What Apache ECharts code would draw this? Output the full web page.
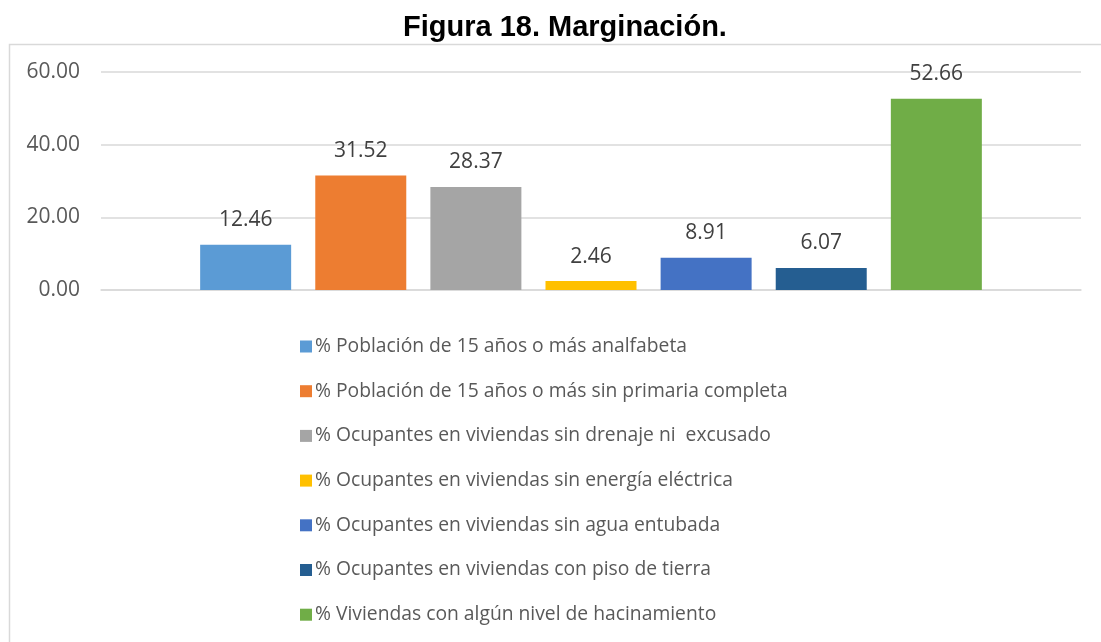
<!DOCTYPE html>
<html>
<head>
<meta charset="utf-8">
<script src="https://cdn.jsdelivr.net/npm/echarts@6/dist/echarts.min.js"></script>
<style>
  html, body { margin: 0; padding: 0; background: #fff; }
  #chart { width: 1101px; height: 642px; }
</style>
</head>
<body>
<div id="chart"></div>
<script>
// datos de la gráfica
const seriesNames = [
  '% Población de 15 años o más analfabeta',
  '% Población de 15 años o más sin primaria completa',
  '% Ocupantes en viviendas sin drenaje ni  excusado',
  '% Ocupantes en viviendas sin energía eléctrica',
  '% Ocupantes en viviendas sin agua entubada',
  '% Ocupantes en viviendas con piso de tierra',
  '% Viviendas con algún nivel de hacinamiento'
]
const values = [12.46, 31.52, 28.37, 2.46, 8.91, 6.07, 52.66]
const colors = ['#5B9BD5', '#ED7D31', '#A5A5A5', '#FFC000', '#4472C4', '#255E91', '#70AD47']
const categories = ['']
const yTicks = [0, 20, 40, 60]

const font = '"Open Sans", "Noto Sans", sans-serif'

const chart = echarts.init(document.getElementById('chart'))

// una serie por indicador, todas en la misma categoría
const series = seriesNames.map((name, i) => ({
  name,
  type: 'bar',
  data: [values[i]],
  barWidth: 91,
  barGap: '26.5%',
  itemStyle: { color: colors[i] },
  label: {
    show: true,
    position: 'top',
    distance: 14,
    formatter: p => p.value.toFixed(2),
    color: '#404040',
    fontFamily: font,
    fontSize: 21
  }
}))

chart.setOption({
  animation: false,
  title: {
    text: 'Figura 18. Marginación.',
    left: 398,
    top: 8,
    textStyle: {
      fontFamily: '"Liberation Sans", Arial, sans-serif',
      fontWeight: 'bold',
      fontSize: 29,
      color: '#000'
    }
  },
  graphic: [{
    type: 'rect',
    left: 7,
    top: 42,
    shape: { width: 1110, height: 620 },
    style: { fill: 'none', stroke: '#D9D9D9', lineWidth: 1.5 },
    silent: true
  }],
  grid: { left: 101, right: 20, top: 72, bottom: 352 },
  xAxis: {
    type: 'category',
    data: categories,
    axisLine: { lineStyle: { color: '#D9D9D9', width: 1.5 } },
    axisTick: { show: false },
    axisLabel: { show: false }
  },
  yAxis: {
    type: 'value',
    min: yTicks[0],
    max: yTicks[yTicks.length - 1],
    interval: yTicks[1] - yTicks[0],
    axisLine: { show: false },
    axisTick: { show: false },
    splitLine: { lineStyle: { color: '#D9D9D9', width: 1.5 } },
    axisLabel: {
      formatter: v => v.toFixed(2),
      color: '#595959',
      fontFamily: font,
      fontSize: 21,
      margin: 21
    }
  },
  legend: {
    orient: 'vertical',
    left: 295,
    top: 331,
    itemWidth: 12,
    itemHeight: 12,
    itemGap: 23.7,
    icon: 'rect',
    textStyle: {
      color: '#595959',
      fontFamily: font,
      fontSize: 19.3,
      lineHeight: 21,
      padding: [0, 0, 0, -2]
    }
  },
  series
})
</script>
</body>
</html>
